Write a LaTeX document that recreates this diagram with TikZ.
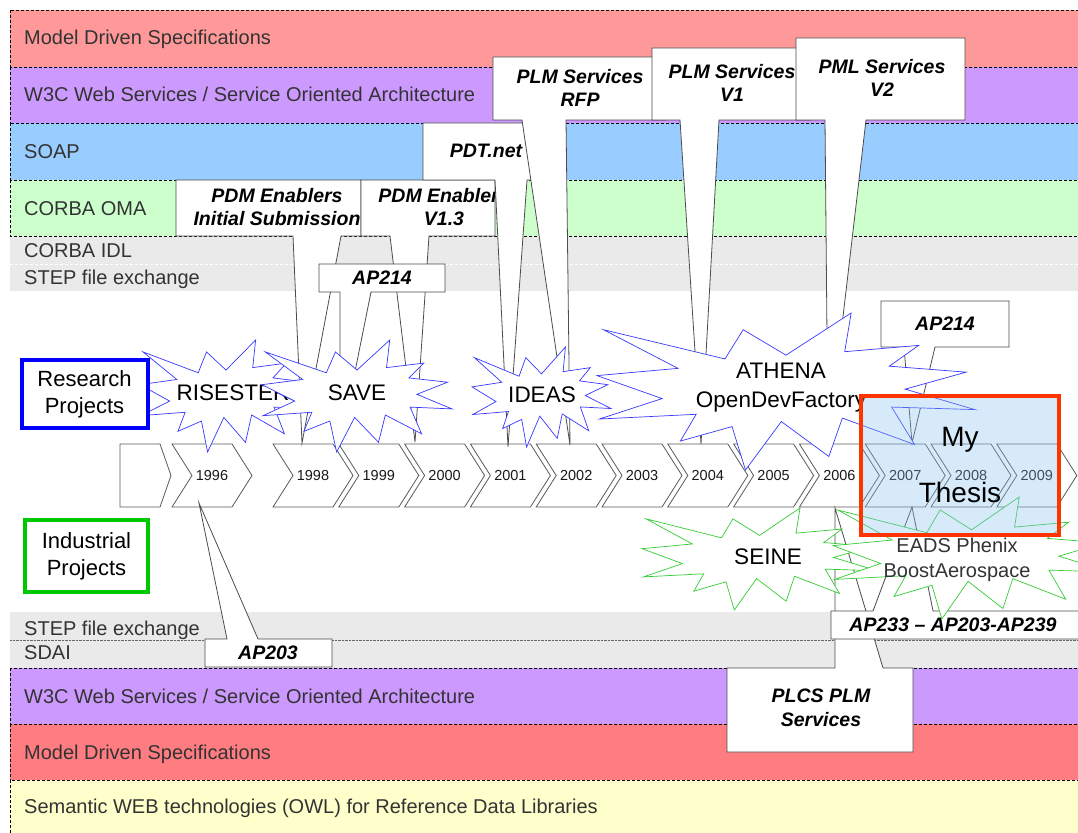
\documentclass[tikz,border=0pt]{standalone}
\usepackage{fontspec}
\setmainfont{Liberation Sans}

\definecolor{mdspink}{HTML}{FF9999}
\definecolor{mdsred}{HTML}{FF7C80}
\definecolor{w3cpurple}{HTML}{CC99FF}
\definecolor{soapblue}{HTML}{99CCFF}
\definecolor{corbagreen}{HTML}{CCFFCC}
\definecolor{stepgray}{HTML}{EAEAEA}
\definecolor{owlyellow}{HTML}{FFFFCC}
\definecolor{burstblue}{HTML}{3838FF}
\definecolor{burstgreen}{HTML}{33CC33}
\definecolor{thesisred}{HTML}{FF3300}
\definecolor{thesisfill}{HTML}{86C0F0}
\definecolor{labelgray}{HTML}{333333}

% PowerPoint "explosion" outline, in a 100x100 box: style, x, y, width, height
\newcommand{\explosion}[5]{%
\draw[#1, shift={(#2,#3)}, xscale=#4/100, yscale=#5/100]
  (50,26.85) -- (67.23,0) -- (65.53,24.65) -- (85.09,20.63) -- (77.32,33.87)
  -- (97.67,37.67) -- (81.51,48.50) -- (100,61.53) -- (77.95,59.92)
  -- (84.00,83.77) -- (64.91,66.93) -- (61.33,91.38) -- (48.76,69.14)
  -- (39.28,100) -- (35.72,72.35) -- (22.05,81.56) -- (26.24,64.52)
  -- (0.63,67.53) -- (17.23,54.51) -- (0,39.88) -- (21.42,35.26)
  -- (1.71,10.63) -- (33.85,29.26) -- (38.67,10.63) -- cycle;}

\begin{document}
\begin{tikzpicture}[x=1pt, y=-1pt,
band/.style={draw=black, dash pattern=on 3pt off 2pt, line width=0.6pt},
bandlabel/.style={anchor=base west, inner sep=0pt, text=labelgray, font=\fontsize{20}{24}\selectfont},
chevron/.style={draw=black!65, fill=white, line width=0.8pt},
yearlabel/.style={font=\fontsize{14.5}{17}\selectfont, text=black!90},
callout/.style={draw=black!70, fill=white, line width=0.8pt},
calltext/.style={font=\fontsize{19.5}{23.5}\selectfont\bfseries\itshape, align=center, inner sep=0pt},
burst/.style={fill=white, line width=0.7pt},
bursttext/.style={font=\fontsize{22.5}{29}\selectfont, align=center, inner sep=0pt},
projbox/.style={draw, fill=white, line width=4pt, align=center, inner sep=0pt,
  font=\fontsize{22}{27}\selectfont}
]
\useasboundingbox (0,0) rectangle (1078,832);
\clip (0,0) rectangle (1078,832);

% upper bands
\fill[stepgray] (10,236) rectangle (1100,291);
\draw[white, dash pattern=on 3pt off 2pt] (10,264) -- (1100,264) (10,291) -- (1100,291);
\path[band, fill=mdspink] (10,10) rectangle (1100,67);
\path[band, fill=w3cpurple] (10,67) rectangle (1100,123);
\path[band, fill=soapblue] (10,123) rectangle (1100,180);
\path[band, fill=corbagreen] (10,180) rectangle (1100,236);
\node[bandlabel] (mds-top) at (24,45) {Model Driven Specifications};
\node[bandlabel] (w3c-top) at (24,102) {W3C Web Services / Service Oriented Architecture};
\node[bandlabel] (soap) at (24,158) {SOAP};
\node[bandlabel] (corba-oma) at (24,215) {CORBA OMA};
\node[bandlabel] (corba-idl) at (24,257) {CORBA IDL};
\node[bandlabel] (step-top) at (24,284) {STEP file exchange};

% lower bands
\fill[stepgray] (10,612) rectangle (1100,668);
\draw[black!60, densely dotted] (10,640) -- (1100,640);
\path[band, fill=w3cpurple] (10,668) rectangle (1100,724);
\path[band, fill=mdsred] (10,724) rectangle (1100,780);
\path[band, fill=owlyellow] (10,780) rectangle (1100,850);
\node[bandlabel] (step-bot) at (24,635) {STEP file exchange};
\node[bandlabel] (sdai) at (24,659) {SDAI};
\node[bandlabel] (w3c-bot) at (24,703) {W3C Web Services / Service Oriented Architecture};
\node[bandlabel] (mds-bot) at (24,759) {Model Driven Specifications};
\node[bandlabel] (owl) at (24,813) {Semantic WEB technologies (OWL) for Reference Data Libraries};

% timeline
\draw[chevron] (120,444) -- (160,444) -- (171,475.5) -- (160,507) -- (120,507) -- cycle;
\draw[chevron] (172,444) -- (232,444) -- (252,475.5) -- (232,507) -- (172,507) -- (192,475.5) -- cycle;
\node[yearlabel] (yr1996) at (212,476) {1996};
\foreach \i in {0,...,11} {
  \pgfmathsetmacro\cx{313+65.8*\i}
  \pgfmathtruncatemacro\yr{1998+\i}
  \draw[chevron] (\cx-40,444) -- (\cx+20,444) -- (\cx+40,475.5) -- (\cx+20,507)
    -- (\cx-40,507) -- (\cx-20,475.5) -- cycle;
  \node[yearlabel] (yr\yr) at (\cx,476) {\yr};
}

% standards callouts, above the timeline
\draw[callout] (176,180) -- (361,180) -- (361,236) -- (341,236) -- (302,443) -- (293,236) -- (176,236) -- cycle;
\node[calltext] (pdm-init) at (277,207) {PDM Enablers\\Initial Submission};
\draw[callout] (361,180) -- (495,180) -- (495,236) -- (429,236) -- (415,442) -- (390,236) -- (361,236) -- cycle;
\begin{scope}
\clip (361,180) rectangle (494.5,236);
\node[calltext] (pdm-v13) at (444,207) {PDM Enablers\\V1.3};
\end{scope}
\draw[callout] (319,264) -- (445,264) -- (445,292) -- (371,292) -- (340,446) -- (340,292) -- (319,292) -- cycle;
\node[calltext] (ap214-top) at (382,278) {AP214};
\draw[callout] (423,123) -- (548,123) -- (548,180) -- (527,180) -- (508,447) -- (495,180) -- (423,180) -- cycle;
\node[calltext] (pdtnet) at (486,151) {PDT.net};
\draw[callout] (493,57) -- (666,57) -- (666,120) -- (566,120) -- (570,445) -- (522,120) -- (493,120) -- cycle;
\node[calltext] (plm-rfp) at (580,88) {PLM Services\\RFP};
\draw[callout] (652,48) -- (811,48) -- (811,120) -- (719,120) -- (701,444) -- (680,120) -- (652,120) -- cycle;
\node[calltext] (plm-v1) at (732,83) {PLM Services\\V1};
\draw[callout] (796,38) -- (965,38) -- (965,120) -- (866,120) -- (828,445) -- (825,120) -- (796,120) -- cycle;
\node[calltext] (pml-v2) at (882,78) {PML Services\\V2};
\draw[callout] (881,301) -- (1009,301) -- (1009,347) -- (935,347) -- (912,443) -- (904,347) -- (881,347) -- cycle;
\node[calltext] (ap214-right) at (945,324) {AP214};

% standards callouts, below the timeline
\draw[callout] (205,639) -- (227,639) -- (199,503) -- (258,639) -- (332,639) -- (332,667) -- (205,667) -- cycle;
\node[calltext] (ap203) at (268,653) {AP203};
\draw[callout] (727,668) -- (835,668) -- (835,508) -- (883,668) -- (913,668) -- (913,752) -- (727,752) -- cycle;
\node[calltext] (plcs) at (821,708) {PLCS PLM\\Services};
\draw[callout] (831,611) -- (873,611) -- (912,507) -- (933,611) -- (1079,611) -- (1079,639) -- (831,639) -- cycle;
\node[calltext] (ap233) at (953,625) {AP233 – AP203-AP239};

% research projects
\explosion{burst, draw=burstblue}{140}{340}{172}{112}
\node[bursttext] (risester) at (233,393) {RISESTER};
\explosion{burst, draw=burstblue}{262}{340}{190}{112}
\node[bursttext] (save) at (357,393) {SAVE};
\explosion{burst, draw=burstblue}{472}{347}{139}{100}
\node[bursttext] (ideas) at (542,395) {IDEAS};
\explosion{burst, draw=burstblue}{597}{313}{378}{157}
\node[bursttext] (athena) at (781,388) {ATHENA\\OpenDevFactory};

% industrial projects
\explosion{burst, draw=burstgreen}{642}{508}{235}{102}
\node[bursttext] (seine) at (768,557) {SEINE};
\explosion{burst, draw=burstgreen}{833}{497}{277}{122}
\node[bursttext, text=labelgray, font=\fontsize{20}{25}\selectfont] (eads) at (957,560) {EADS Phenix\\BoostAerospace};

\node[projbox, draw=blue, minimum width=126pt, minimum height=68pt] (research) at (84.5,394) {Research\\Projects};
\node[projbox, draw={rgb,255:red,0;green,200;blue,0}, minimum width=123pt, minimum height=72pt] (industrial) at (86.5,556) {Industrial\\Projects};

% my thesis
\draw[draw=thesisred, line width=4.5pt, fill=thesisfill, fill opacity=0.33] (861,396) rectangle (1059,535);
\node[font=\fontsize{28}{56}\selectfont, align=center, inner sep=0pt] (thesis) at (960,465) {My\\Thesis};

\end{tikzpicture}
\end{document}
